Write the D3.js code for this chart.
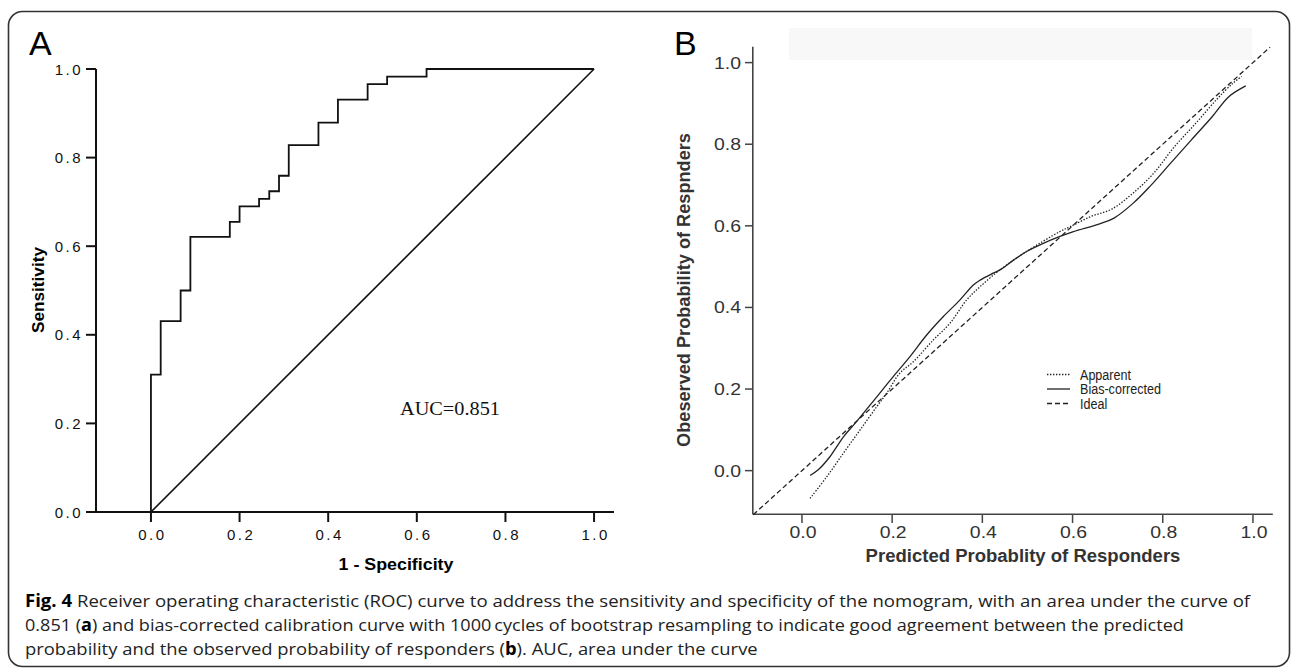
<!DOCTYPE html>
<html>
<head>
<meta charset="utf-8">
<script src="https://cdn.jsdelivr.net/npm/d3@7"></script>
<style>
  body { margin: 0; background: #fff; }
  svg { display: block; }
</style>
</head>
<body>
<svg id="fig" width="1295" height="670"></svg>
<script>
// ROC curve (panel A): corner points of the step curve
var rocFpr = [0, 0, 0.022, 0.067, 0.089, 0.178, 0.2, 0.244, 0.267, 0.289, 0.311, 0.378, 0.422, 0.489, 0.533, 0.622, 1.0];
var rocTpr = [0, 0.31, 0.431, 0.5, 0.621, 0.655, 0.69, 0.707, 0.724, 0.759, 0.828, 0.879, 0.931, 0.966, 0.983, 1.0, 1.0];
var refLine = [0, 1];
var rocTicks = [0, 0.2, 0.4, 0.6, 0.8, 1.0];
var aucText = "AUC=0.851";

// calibration curves (panel B)
var appX = [0.018, 0.055, 0.092, 0.129, 0.166, 0.188, 0.217, 0.247, 0.291, 0.328, 0.365, 0.395, 0.439, 0.498, 0.572, 0.595, 0.641, 0.687, 0.734, 0.780, 0.826, 0.873, 0.919, 0.956, 0.975];
var appY = [-0.068, -0.015, 0.043, 0.100, 0.157, 0.190, 0.239, 0.267, 0.320, 0.361, 0.418, 0.451, 0.492, 0.537, 0.586, 0.598, 0.623, 0.641, 0.680, 0.729, 0.794, 0.851, 0.909, 0.950, 0.966];
var biasX = [0.018, 0.036, 0.062, 0.092, 0.121, 0.166, 0.202, 0.239, 0.277, 0.313, 0.350, 0.380, 0.395, 0.424, 0.439, 0.469, 0.498, 0.535, 0.572, 0.602, 0.660, 0.692, 0.734, 0.771, 0.817, 0.863, 0.910, 0.947, 0.984];
var biasY = [-0.012, 0.002, 0.034, 0.083, 0.120, 0.181, 0.230, 0.279, 0.333, 0.377, 0.418, 0.455, 0.467, 0.484, 0.492, 0.516, 0.537, 0.557, 0.574, 0.586, 0.605, 0.619, 0.655, 0.696, 0.753, 0.810, 0.868, 0.917, 0.943];
var idealX = [-0.108, 1.038];
var idealY = [-0.108, 1.038];
var calTicks = [0, 0.2, 0.4, 0.6, 0.8, 1.0];
var legendNames = ["Apparent", "Bias-corrected", "Ideal"];

var captionLines = [
  [["Fig. 4", true], [" Receiver operating characteristic (ROC) curve to address the sensitivity and specificity of the nomogram, with an area under the curve of", false]],
  [["0.851 (", false], ["a", true], [") and bias-corrected calibration curve with 1000\u2009cycles of bootstrap resampling to indicate good agreement between the predicted", false]],
  [["probability and the observed probability of responders (", false], ["b", true], ("). AUC, area under the curve"), false]
];
// fix third line structure
captionLines[2] = [["probability and the observed probability of responders (", false], ["b", true], ["). AUC, area under the curve", false]];
var captionWidths = [1226, 1160, 733];

var svg = d3.select("#fig");

// squeeze a text horizontally so it covers the wanted width
function fitText(sel, width, x, y, rot) {
  var w = sel.node().getComputedTextLength();
  var s = width / w;
  sel.attr("transform", "translate(" + x + "," + y + ")" + (rot ? " rotate(" + rot + ")" : "") + " scale(" + s + ",1)");
}

// outer frame
svg.append("rect")
  .attr("x", 8.5).attr("y", 11.5)
  .attr("width", 1281).attr("height", 655)
  .attr("rx", 14).attr("ry", 14)
  .style("fill", "none").style("stroke", "#333").style("stroke-width", 1.6);

// ---------------- panel A ----------------
var xA = d3.scaleLinear().domain([-0.124, 1.045]).range([96, 614]);
var yA = d3.scaleLinear().domain([0, 1]).range([512, 69]);
var gA = svg.append("g").attr("class", "panelA");

gA.append("text").text("A")
  .attr("x", 29).attr("y", 55)
  .style("font-family", "Liberation Sans, Arial, sans-serif")
  .style("font-size", "34px").style("fill", "#000");

var axA = gA.append("g").style("font-family", "Liberation Sans, Arial, sans-serif");
axA.append("line").attr("x1", 96).attr("x2", 96).attr("y1", yA(1)).attr("y2", yA(0))
  .style("stroke", "#111").style("stroke-width", 2);
axA.append("line").attr("x1", 96).attr("x2", 614).attr("y1", yA(0)).attr("y2", yA(0))
  .style("stroke", "#111").style("stroke-width", 2);

rocTicks.forEach(function(t){
  axA.append("line").attr("x1", 86).attr("x2", 96).attr("y1", yA(t)).attr("y2", yA(t))
    .style("stroke", "#111").style("stroke-width", 2);
  axA.append("text").text(d3.format(".1f")(t))
    .attr("x", 83).attr("y", yA(t) + 5.5)
    .attr("text-anchor", "end")
    .style("font-size", "15px").style("letter-spacing", "2.5px").style("fill", "#111");
  axA.append("line").attr("x1", xA(t)).attr("x2", xA(t)).attr("y1", yA(0)).attr("y2", yA(0) + 10)
    .style("stroke", "#111").style("stroke-width", 2);
  axA.append("text").text(d3.format(".1f")(t))
    .attr("x", xA(t) + 1.5).attr("y", 540)
    .attr("text-anchor", "middle")
    .style("font-size", "15px").style("letter-spacing", "2.5px").style("fill", "#111");
});

var ylabA = gA.append("text").text("Sensitivity")
  .attr("text-anchor", "middle")
  .style("font-family", "Liberation Sans, Arial, sans-serif")
  .style("font-size", "16px").style("font-weight", "bold");
fitText(ylabA, 86, 44, 290, -90);

var xlabA = gA.append("text").text("1 - Specificity")
  .attr("text-anchor", "middle")
  .style("font-family", "Liberation Sans, Arial, sans-serif")
  .style("font-size", "16px").style("font-weight", "bold");
fitText(xlabA, 115, 396, 570);

var rocPts = rocFpr.map(function(f, i){ return [f, rocTpr[i]]; });
gA.append("path")
  .datum(rocPts)
  .attr("d", d3.line().x(function(d){ return xA(d[0]); }).y(function(d){ return yA(d[1]); }).curve(d3.curveStepAfter))
  .style("fill", "none").style("stroke", "#111").style("stroke-width", 1.8);

gA.append("path")
  .datum(refLine.map(function(v){ return [v, v]; }))
  .attr("d", d3.line().x(function(d){ return xA(d[0]); }).y(function(d){ return yA(d[1]); }))
  .style("fill", "none").style("stroke", "#111").style("stroke-width", 1.6);

var auc = gA.append("text").text(aucText)
  .attr("text-anchor", "start")
  .style("font-family", "Liberation Serif, Times New Roman, serif")
  .style("font-size", "19px").style("fill", "#111");
fitText(auc, 100, 400, 415);

// ---------------- panel B ----------------
var xB = d3.scaleLinear().domain([-0.109, 1.044]).range([752.8, 1272.8]);
var yB = d3.scaleLinear().domain([-0.107, 1.039]).range([514.3, 46.7]);
var gB = svg.append("g").attr("class", "panelB");

// faint band at the top of the plot
gB.append("rect").attr("x", 789).attr("y", 28).attr("width", 463).attr("height", 32)
  .style("fill", "#f8f8f8");

gB.append("text").text("B")
  .attr("x", 674).attr("y", 55)
  .style("font-family", "Liberation Sans, Arial, sans-serif")
  .style("font-size", "34px").style("fill", "#000");

var axB = gB.append("g").style("font-family", "Liberation Sans, Arial, sans-serif");
axB.append("line").attr("x1", 752.8).attr("x2", 752.8).attr("y1", 46.7).attr("y2", 514.3)
  .style("stroke", "#444").style("stroke-width", 1.6);
axB.append("line").attr("x1", 752.8).attr("x2", 1272.8).attr("y1", 514.3).attr("y2", 514.3)
  .style("stroke", "#444").style("stroke-width", 1.6);

calTicks.forEach(function(t){
  axB.append("line").attr("x1", 745).attr("x2", 752.8).attr("y1", yB(t)).attr("y2", yB(t))
    .style("stroke", "#444").style("stroke-width", 1.5);
  var ty = axB.append("text").text(d3.format(".1f")(t))
    .attr("text-anchor", "end")
    .style("font-size", "16px").style("fill", "#333");
  fitText(ty, 27, 741, yB(t) + 6);
  axB.append("line").attr("x1", xB(t)).attr("x2", xB(t)).attr("y1", 514.3).attr("y2", 523)
    .style("stroke", "#444").style("stroke-width", 1.5);
  var tx = axB.append("text").text(d3.format(".1f")(t))
    .attr("text-anchor", "middle")
    .style("font-size", "16px").style("fill", "#333");
  fitText(tx, 27, xB(t) + 1, 538);
});

var ylabB = gB.append("text").text("Obeserved Probability of Respnders")
  .attr("text-anchor", "middle")
  .style("font-family", "Liberation Sans, Arial, sans-serif")
  .style("font-size", "18px").style("font-weight", "bold").style("fill", "#333");
fitText(ylabB, 314, 690, 290, -90);

var xlabB = gB.append("text").text("Predicted Probablity of Responders")
  .attr("text-anchor", "middle")
  .style("font-family", "Liberation Sans, Arial, sans-serif")
  .style("font-size", "19px").style("font-weight", "bold").style("fill", "#333");
fitText(xlabB, 315, 1023, 562);

var calLine = d3.line()
  .x(function(d){ return xB(d[0]); })
  .y(function(d){ return yB(d[1]); })
  .curve(d3.curveCatmullRom);

var series = [
  {name: legendNames[0], pts: appX.map(function(v, i){ return [v, appY[i]]; }), dash: "1.4,1.6"},
  {name: legendNames[1], pts: biasX.map(function(v, i){ return [v, biasY[i]]; }), dash: null},
  {name: legendNames[2], pts: idealX.map(function(v, i){ return [v, idealY[i]]; }), dash: "5,3"}
];

series.forEach(function(s){
  gB.append("path")
    .datum(s.pts)
    .attr("d", calLine)
    .style("fill", "none").style("stroke", "#222").style("stroke-width", 1.3)
    .style("stroke-dasharray", s.dash);
});

// legend
var leg = gB.append("g").attr("class", "legend").style("font-family", "Liberation Sans, Arial, sans-serif");
var legScale = 1;
series.forEach(function(s, i){
  var ly = 374.5 + i * 14.5;
  leg.append("line").attr("x1", 1047).attr("x2", 1070).attr("y1", ly).attr("y2", ly)
    .style("stroke", "#222").style("stroke-width", 1.3)
    .style("stroke-dasharray", s.dash);
  var lt = leg.append("text").text(s.name)
    .style("font-size", "14px").style("fill", "#222");
  if (i == 1) legScale = 81 / lt.node().getComputedTextLength();
  lt.attr("class", "legtext").attr("data-y", ly + 5);
});
leg.selectAll("text.legtext").each(function(){
  var t = d3.select(this);
  t.attr("transform", "translate(1080," + t.attr("data-y") + ") scale(" + legScale + ",1)");
});

// ---------------- caption ----------------
var capY = [607, 631, 655];
captionLines.forEach(function(parts, i){
  var t = svg.append("text")
    .style("font-family", "Open Sans, Noto Sans, sans-serif")
    .style("font-size", "17px").style("fill", "#222");
  parts.forEach(function(p){
    t.append("tspan").text(p[0])
      .style("font-weight", p[1] ? "bold" : "normal")
      .style("fill", p[1] ? "#000" : "#222");
  });
  fitText(t, captionWidths[i], 25, capY[i]);
});
</script>
</body>
</html>
